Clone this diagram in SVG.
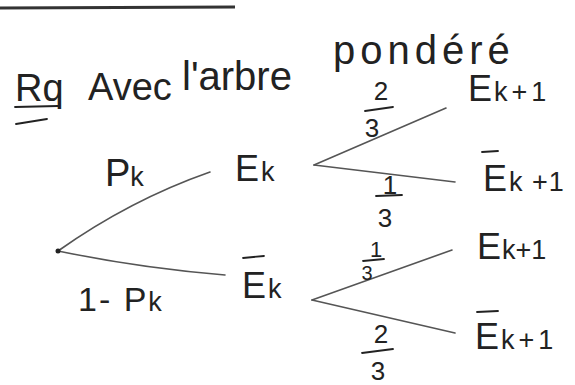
<svg xmlns="http://www.w3.org/2000/svg" width="575" height="385" viewBox="0 0 575 385">
<style>
text{font-family:"Liberation Sans","DejaVu Sans",sans-serif;fill:#222}
.t{font-size:38px}
.e{font-size:36px}
.s{font-size:27px}
.f{font-size:26px;text-anchor:middle}
.br{stroke:#555;stroke-width:1.6;fill:none;stroke-linecap:round}
.bar{stroke:#222;stroke-width:1.8;stroke-linecap:round}
</style>
<rect width="575" height="385" fill="#fff"/>
<g id="header">
<line x1="0" y1="8" x2="235" y2="7" stroke="#333" stroke-width="3"/>
<text class="t" x="15" y="101">Rq</text>
<text class="t" x="88" y="100">Avec</text>
<text x="182" y="90" style="font-size:40px">l'arbre</text>
<text x="333" y="64" style="font-size:40px;letter-spacing:5px">pondéré</text>
<line class="bar" x1="15" y1="107" x2="58" y2="106"/>
<line class="bar" x1="16" y1="124" x2="47" y2="119"/>
</g>
<g id="connectors">
<path class="br" d="M58 251 Q130 200 210 172"/>
<path class="br" d="M58 251 Q140 268 225 275"/>
<path class="br" d="M314 165 L446 108"/>
<path class="br" d="M314 165 L455 182"/>
<path class="br" d="M312 300 L452 250"/>
<path class="br" d="M312 300 L455 333"/>
</g>
<g id="root"><circle cx="58" cy="251" r="2.5" fill="#222"/></g>
<g id="node-Ek"><text class="e" x="235" y="181">E<tspan class="s" dx="2">k</tspan></text></g>
<g id="node-notEk"><line class="bar" x1="243" y1="258" x2="264" y2="256"/><text class="e" x="242" y="298">E<tspan class="s" dx="2">k</tspan></text></g>
<g id="node-Ek1-a"><text class="e" x="468" y="101">E<tspan class="s" dx="2" style="letter-spacing:4px">k+1</tspan></text></g>
<g id="node-notEk1-a"><line class="bar" x1="482" y1="152" x2="498" y2="151"/><text class="e" x="483" y="191">E<tspan class="s" dx="2" style="letter-spacing:1px">k +1</tspan></text></g>
<g id="node-Ek1-b"><text class="e" x="477" y="259">E<tspan class="s" dx="1">k+1</tspan></text></g>
<g id="node-notEk1-b"><line class="bar" x1="477" y1="312" x2="498" y2="311"/><text class="e" x="475" y="349">E<tspan class="s" dx="2" style="letter-spacing:4px">k+1</tspan></text></g>
<g id="edge-labels">
<text x="105" y="186"><tspan font-size="38px">P</tspan><tspan font-size="27px">k</tspan></text>
<text x="78" y="311" style="letter-spacing:2px"><tspan font-size="34px">1- P</tspan><tspan font-size="27px">k</tspan></text>
<text class="f" x="381" y="100">2</text><line class="bar" x1="365" y1="111" x2="393" y2="107"/><text class="f" x="372" y="137">3</text>
<text class="f" x="390" y="194" font-size="24px">1</text><line class="bar" x1="376" y1="196" x2="402" y2="195"/><text class="f" x="385" y="227">3</text>
<text class="f" x="376" y="257" style="font-size:22px">1</text><line class="bar" x1="363" y1="261" x2="384" y2="259"/><text class="f" x="367" y="280" style="font-size:20px">3</text>
<text class="f" x="381" y="343">2</text><line class="bar" x1="362" y1="353" x2="393" y2="349"/><text class="f" x="378" y="380">3</text>
</g>
</svg>
